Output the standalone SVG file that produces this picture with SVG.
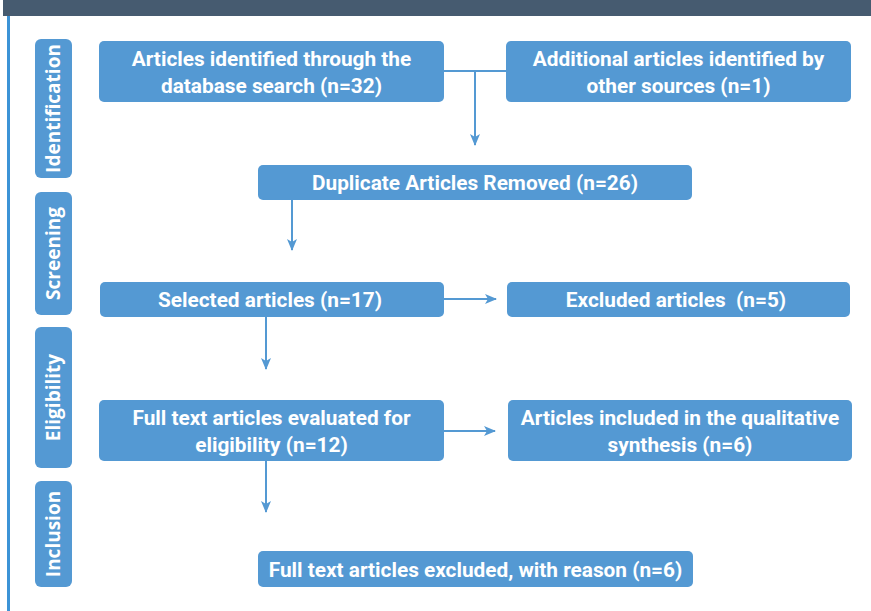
<svg xmlns="http://www.w3.org/2000/svg" width="871" height="611" viewBox="0 0 871 611">
<defs>
<style>
.box{fill:#5499d3;}
.side{fill:#5499d3;}
.t{font-family:Roboto,"Liberation Sans",sans-serif;font-weight:bold;font-size:20.8px;fill:#fff;text-anchor:middle;}
.st{font-family:"Open Sans","Liberation Sans",sans-serif;font-weight:bold;font-size:19px;fill:#fff;text-anchor:middle;}
.c{stroke:#5499d3;stroke-width:2;fill:none;}
</style>
<marker id="ah" viewBox="0 0 12 10" refX="11" refY="5" markerWidth="12" markerHeight="10" markerUnits="userSpaceOnUse" orient="auto">
<path d="M0,0 L12,5 L0,10 L3,5 Z" fill="#5499d3"/>
</marker>
</defs>
<rect x="0" y="0" width="871" height="611" fill="#fff"/>
<rect x="3" y="0" width="868" height="16" fill="#465b70"/>
<rect x="7" y="16" width="3" height="595" fill="#3c93d6"/>

<g id="side-identification"><rect class="side" x="35" y="39" width="37" height="139" rx="6"/><text class="st" transform="translate(60,108.5) rotate(-90)">Identification</text></g>
<g id="side-screening"><rect class="side" x="35" y="192" width="37" height="123" rx="6"/><text class="st" transform="translate(60,253.5) rotate(-90)">Screening</text></g>
<g id="side-eligibility"><rect class="side" x="35" y="327" width="37" height="141" rx="6"/><text class="st" transform="translate(60,397.5) rotate(-90)">Eligibility</text></g>
<g id="side-inclusion"><rect class="side" x="35" y="481" width="37" height="106" rx="6"/><text class="st" transform="translate(60,534) rotate(-90)">Inclusion</text></g>

<g id="connectors">
<path class="c" d="M444,71 H506"/>
<path class="c" d="M475,71 V145" marker-end="url(#ah)"/>
<path class="c" d="M292,200 V250" marker-end="url(#ah)"/>
<path class="c" d="M444,299 H496" marker-end="url(#ah)"/>
<path class="c" d="M266,317 V369" marker-end="url(#ah)"/>
<path class="c" d="M444,431 H495" marker-end="url(#ah)"/>
<path class="c" d="M266,461 V512" marker-end="url(#ah)"/>
</g>

<g id="n1"><rect class="box" x="99" y="41" width="345" height="61" rx="5"/><text class="t" x="271.5" y="66">Articles identified through the</text><text class="t" x="271.5" y="93">database search (n=32)</text></g>
<g id="n2"><rect class="box" x="506" y="41" width="345" height="61" rx="5"/><text class="t" x="678.5" y="66">Additional articles identified by</text><text class="t" x="678.5" y="93">other sources (n=1)</text></g>
<g id="n3"><rect class="box" x="258" y="165" width="434" height="35" rx="5"/><text class="t" x="475" y="190">Duplicate Articles Removed (n=26)</text></g>
<g id="n4"><rect class="box" x="100" y="282" width="344" height="35" rx="5"/><text class="t" x="270" y="307">Selected articles (n=17)</text></g>
<g id="n5"><rect class="box" x="507" y="282" width="343" height="35" rx="5"/><text class="t" x="676" y="307" xml:space="preserve">Excluded articles  (n=5)</text></g>
<g id="n6"><rect class="box" x="99" y="400" width="345" height="61" rx="5"/><text class="t" x="271.5" y="425">Full text articles evaluated for</text><text class="t" x="271.5" y="452">eligibility (n=12)</text></g>
<g id="n7"><rect class="box" x="508" y="400" width="344" height="61" rx="5"/><text class="t" x="680" y="425">Articles included in the qualitative</text><text class="t" x="680" y="452">synthesis (n=6)</text></g>
<g id="n8"><rect class="box" x="258" y="551" width="435" height="36" rx="5"/><text class="t" x="475.5" y="577">Full text articles excluded, with reason (n=6)</text></g>
</svg>
